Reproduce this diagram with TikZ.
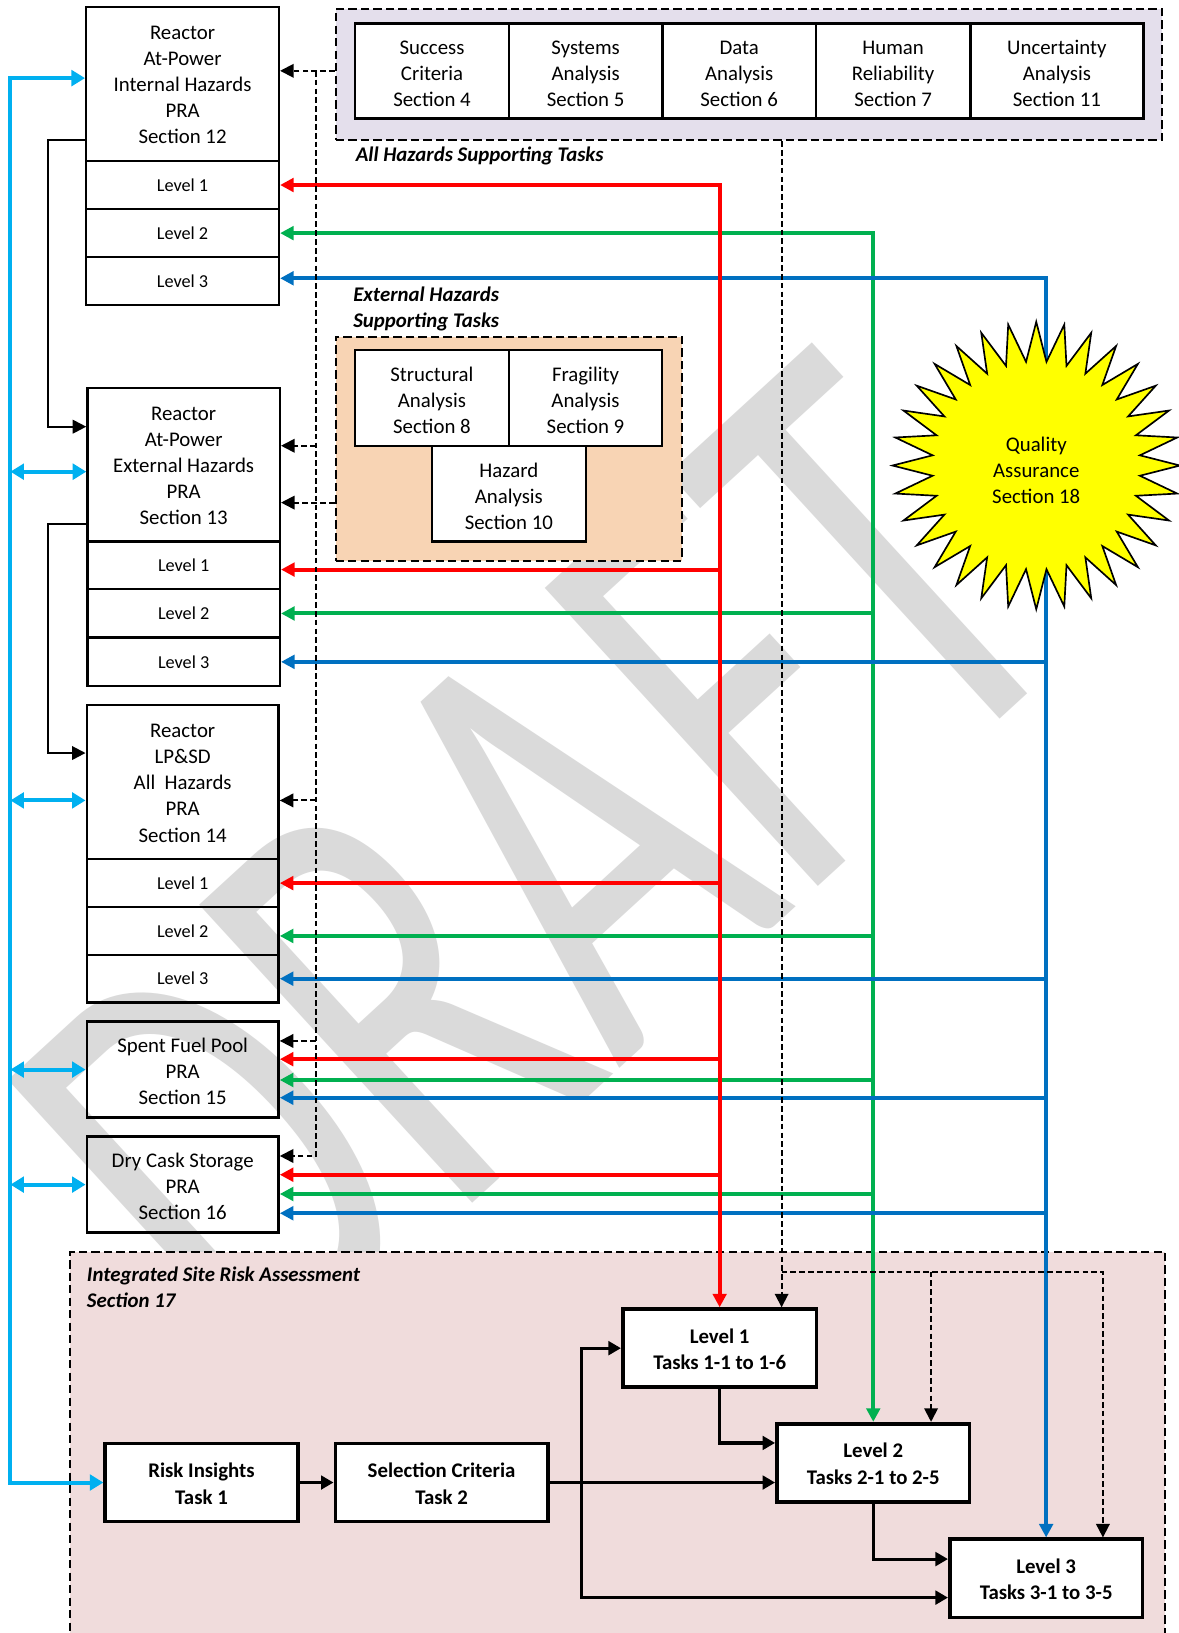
\documentclass[tikz,border=0pt]{standalone}
\usepackage{fontspec}
\usepackage{graphicx}
\setmainfont{Carlito}
\usetikzlibrary{arrows.meta,shapes.geometric,calc}

\definecolor{cRed}{HTML}{FF0000}
\definecolor{cGreen}{HTML}{00B050}
\definecolor{cBlue}{HTML}{0070C0}
\definecolor{cCyan}{HTML}{00B0F0}
\definecolor{cLav}{HTML}{E4DFEC}
\definecolor{cPeach}{HTML}{F8D4B4}
\definecolor{cPink}{HTML}{F0DCDC}
\definecolor{cStar}{HTML}{FFFF00}
\definecolor{cMark}{HTML}{DADADA}

% invisible strut that lowers a multi-line block inside its box
\newcommand{\lowr}[1]{\rule{0pt}{#1}}

\begin{document}
\begin{tikzpicture}[x=1pt,y=-1pt,
  prabox/.style={draw, line width=2.3pt, inner sep=0pt, align=center,
    font=\fontsize{20}{25}\selectfont},
  lvlbox/.style={prabox, font=\fontsize{17.5}{21}\selectfont},
  supbox/.style={draw, line width=2.3pt, fill=white, inner sep=0pt, align=center,
    font=\fontsize{20}{25}\selectfont},
  taskbox/.style={draw, line width=3.5pt, fill=white, inner sep=0pt, align=center,
    minimum height=75pt, font=\bfseries\fontsize{20}{25.5}\selectfont},
  region/.style={draw, line width=2pt, dash pattern=on 8pt off 4pt, inner sep=0pt},
  grouplabel/.style={anchor=base west, inner sep=0pt,
    font=\bfseries\itshape\fontsize{20}{25}\selectfont},
  colln/.style={line width=3.8pt, >={Triangle[length=13pt,width=13pt]}},
  redln/.style={colln, draw=cRed},
  grnln/.style={colln, draw=cGreen},
  bluln/.style={colln, draw=cBlue},
  cyanln/.style={line width=3.8pt, draw=cCyan, >={Triangle[length=13pt,width=15pt]}},
  blkln/.style={line width=2pt, >={Triangle[length=13pt,width=13pt]}},
  dshln/.style={line width=1.8pt, dash pattern=on 5.5pt off 3pt,
    >={Triangle[length=13pt,width=13pt]}},
  tskln/.style={line width=3pt, >={Triangle[length=12pt,width=13pt]}}
]
\useasboundingbox (0,0) rectangle (1132,1568);
\fill[white] (0,0) rectangle (1132,1568);

% watermark
\node[anchor=base west, rotate=42.5, inner sep=0pt, text=cMark] (wm) at (250,1342)
  {\scalebox{0.665}[1]{\fontsize{605}{605}\selectfont DRAFT}};

% shaded groups
\node[region, fill=cLav, minimum width=793pt, minimum height=126pt] (allh) at (719,71.5) {};
\node[region, fill=cPeach, minimum width=332.2pt, minimum height=215.1pt] (ext) at (488.4,430.75) {};
\node[region, fill=cPink, minimum width=1051pt, minimum height=398pt] (isra) at (593.1,1401) {};

% supporting tasks for all hazards
\node[supbox, minimum width=147.7pt, minimum height=91.2pt] (sc4) at (414.85,68) {\lowr{19pt}Success\\Criteria\\Section 4};
\node[supbox, minimum width=147.3pt, minimum height=91.2pt] (sa5) at (562.35,68) {\lowr{19pt}Systems\\Analysis\\Section 5};
\node[supbox, minimum width=147.5pt, minimum height=91.2pt] (da6) at (709.75,68) {\lowr{19pt}Data\\Analysis\\Section 6};
\node[supbox, minimum width=148.2pt, minimum height=91.2pt] (hr7) at (857.6,68) {\lowr{19pt}Human\\Reliability\\Section 7};
\node[supbox, minimum width=166.3pt, minimum height=91.2pt] (ua11) at (1014.85,68) {\lowr{19pt}Uncertainty\\Analysis\\Section 11};
\node[grouplabel] (allhlab) at (341.4,154.6) {All Hazards Supporting Tasks};

% supporting tasks for external hazards
\node[grouplabel] (extlab1) at (339,289.7) {External Hazards};
\node[grouplabel] (extlab2) at (339,314.7) {Supporting Tasks};
\node[supbox, minimum width=147.9pt, minimum height=92pt] (sa8) at (414.75,382) {\lowr{19pt}Structural\\Analysis\\Section 8};
\node[supbox, minimum width=147pt, minimum height=92pt] (fa9) at (562.2,382) {\lowr{19pt}Fragility\\Analysis\\Section 9};
\node[supbox, minimum width=147.6pt, minimum height=92pt] (ha10) at (488.6,474) {\lowr{19pt}Hazard\\Analysis\\Section 10};

% PRA boxes
\node[prabox, minimum width=185pt, minimum height=147.6pt] (ih) at (175.3,80.8) {\lowr{15pt}Reactor\\At-Power\\Internal Hazards\\PRA\\Section 12};
\node[lvlbox, minimum width=185pt, minimum height=46.1pt] (ih1) at (175.3,177.65) {Level 1};
\node[lvlbox, minimum width=185pt, minimum height=46.3pt] (ih2) at (175.3,223.85) {Level 2};
\node[lvlbox, minimum width=185pt, minimum height=45.8pt] (ih3) at (175.3,269.9) {Level 3};

\node[prabox, minimum width=184.7pt, minimum height=147.2pt] (eb) at (176.35,446.4) {\lowr{15pt}Reactor\\At-Power\\External Hazards\\PRA\\Section 13};
\node[lvlbox, minimum width=184.7pt, minimum height=45.8pt] (eb1) at (176.35,542.9) {Level 1};
\node[lvlbox, minimum width=184.7pt, minimum height=46.5pt] (eb2) at (176.35,589.05) {Level 2};
\node[lvlbox, minimum width=184.7pt, minimum height=46.4pt] (eb3) at (176.35,635.5) {Level 3};

\node[prabox, minimum width=184.2pt, minimum height=147.7pt] (lp) at (175.4,751.05) {\lowr{15pt}Reactor\\LP\&SD\\All\ \ Hazards\\PRA\\Section 14};
\node[lvlbox, minimum width=184.2pt, minimum height=46.1pt] (lp1) at (175.4,847.95) {Level 1};
\node[lvlbox, minimum width=184.2pt, minimum height=46pt] (lp2) at (175.4,894) {Level 2};
\node[lvlbox, minimum width=184.2pt, minimum height=45.5pt] (lp3) at (175.4,939.75) {Level 3};

\node[prabox, minimum width=184.2pt, minimum height=92pt] (sfp) at (175.4,1027) {\lowr{17pt}Spent Fuel Pool\\PRA\\Section 15};
\node[prabox, minimum width=184.2pt, minimum height=92.1pt] (dcs) at (175.4,1137.45) {\lowr{17pt}Dry Cask Storage\\PRA\\Section 16};

% integrated site risk assessment
\node[grouplabel] (isralab1) at (83.3,1230.6) {Integrated Site Risk Assessment};
\node[grouplabel] (isralab2) at (83.3,1255.6) {Section 17};
\node[taskbox, minimum width=186pt] (t1) at (691,1294.5) {\lowr{16pt}Level 1\\Tasks 1-1 to 1-6};
\node[taskbox, minimum width=185pt] (t2) at (838.5,1404.5) {\lowr{16pt}Level 2\\Tasks 2-1 to 2-5};
\node[taskbox, minimum width=185pt] (t3) at (1004.5,1515.5) {\lowr{16pt}Level 3\\Tasks 3-1 to 3-5};
\node[taskbox, minimum width=185pt] (ri) at (193.5,1423.5) {\lowr{16pt}Risk Insights\\Task 1};
\node[taskbox, minimum width=204pt] (sc) at (424,1423.5) {\lowr{16pt}Selection Criteria\\Task 2};

% Level 2 feeds (green)
\draw[grnln,<->] (ih2.east) -| (t2.north);
\coordinate (gC) at ([yshift=-4.7pt]lp2.east);
\coordinate (gD) at ([yshift=-10pt]sfp.east);
\coordinate (gE) at ([yshift=-9pt]dcs.east);
\draw[grnln,->] (t2.north |- eb2.east) -- (eb2.east);
\draw[grnln,->] (t2.north |- gC) -- (gC);
\draw[grnln,->] (t2.north |- gD) -- (gD);
\draw[grnln,->] (t2.north |- gE) -- (gE);

% Level 3 feeds (blue)
\coordinate (bA) at ([yshift=2.7pt]ih3.east);
\draw[bluln,<->] (bA) -| (t3.north);
\coordinate (bD) at ([yshift=-27pt]sfp.east);
\coordinate (bE) at ([yshift=-27.5pt]dcs.east);
\draw[bluln,->] (t3.north |- eb3.east) -- (eb3.east);
\draw[bluln,->] (t3.north |- lp3.east) -- (lp3.east);
\draw[bluln,->] (t3.north |- bD) -- (bD);
\draw[bluln,->] (t3.north |- bE) -- (bE);

% Level 1 feeds (red)
\draw[redln,<->] (ih1.east) -| (t1.north);
\coordinate (rB) at ([yshift=-4pt]eb1.east);
\coordinate (rD) at ([yshift=10pt]sfp.east);
\coordinate (rE) at ([yshift=9.5pt]dcs.east);
\draw[redln,->] (t1.north |- rB) -- (rB);
\draw[redln,->] (t1.north |- lp1.east) -- (lp1.east);
\draw[redln,->] (t1.north |- rD) -- (rD);
\draw[redln,->] (t1.north |- rE) -- (rE);

% risk insights exchange (cyan)
\coordinate (cyv) at (10,0);
\coordinate (cyA) at ([yshift=5.8pt]ih.west);
\coordinate (cyB) at ([yshift=-6.5pt]eb.west);
\coordinate (cyC) at ([yshift=-17.5pt]lp.west);
\draw[cyanln,<->] (ri.west) -| (cyv |- cyA) -- (cyA);
\draw[cyanln,<->] (cyv |- cyB) -- (cyB);
\draw[cyanln,<->] (cyv |- cyC) -- (cyC);
\draw[cyanln,<->] (cyv |- sfp.west) -- (sfp.west);
\draw[cyanln,<->] (cyv |- dcs.west) -- (dcs.west);

% reactor PRA sequence
\coordinate (kA) at ([yshift=-53.6pt]ih.west);
\coordinate (kB) at ([yshift=36.7pt]eb.west);
\coordinate (kB2) at ([yshift=-57pt]eb.west);
\coordinate (kC) at ([yshift=28pt]lp.west);
\draw[blkln,->] (kA) -- ++(-36,0) |- (kB);
\draw[blkln,->] (kB2) -- ++(-37,0) |- (kC);

% supporting task inputs (dashed)
\coordinate (dv) at (303.4,68);
\coordinate (dB1) at ([yshift=18.4pt]eb.east);
\coordinate (dB2) at ([yshift=-36.2pt]eb.east);
\coordinate (dC) at ([yshift=-17.5pt]lp.east);
\coordinate (dD) at ([yshift=27.5pt]sfp.east);
\coordinate (dE) at ([yshift=27.5pt]dcs.east);
\draw[dshln,->] (allh.west |- dv) -- (ih.east |- dv);
\draw[dshln,->] (dv) |- (dE);
\draw[dshln,->] (dv |- dB1) -- (dB1);
\draw[dshln,->] (ext.west |- dB2) -- (dB2);
\draw[dshln,->] (dv |- dC) -- (dC);
\draw[dshln,->] (dv |- dD) -- (dD);

\coordinate (dj) at (750.5,1221);
\coordinate (dj2) at (894,1221);
\coordinate (dj3) at (1059,1221);
\draw[dshln,->] (allh.south -| dj) -- (t1.north -| dj);
\draw[dshln,->] (dj) -- (dj3) -- (t3.north -| dj3);
\draw[dshln,->] (dj2) -- (t2.north -| dj2);

% integrated assessment flow
\coordinate (sv) at (558,0);
\coordinate (t2a) at ([yshift=19pt]t2.west);
\coordinate (t3a) at ([yshift=-18.5pt]t3.west);
\coordinate (t3b) at ([yshift=18.5pt]t3.west);
\draw[tskln,->] (ri.east) -- (sc.west);
\draw[tskln,->] (sc.east) -- (t2.west |- sc.east);
\draw[tskln,<->] (t1.west) -| (sv |- t3a) -- (t3a);
\draw[tskln,->] (t1.south) |- (t2a);
\draw[tskln,->] (t2.south) |- (t3b);

% quality assurance
\node[star, star points=32, star point ratio=1.38, minimum size=276pt, inner sep=0pt,
  fill=cStar, draw=black, line width=1.6pt, align=center,
  font=\fontsize{20}{25}\selectfont] (qa) at (995,447) {\lowr{24pt}Quality\\Assurance\\Section 18};
\end{tikzpicture}
\end{document}
